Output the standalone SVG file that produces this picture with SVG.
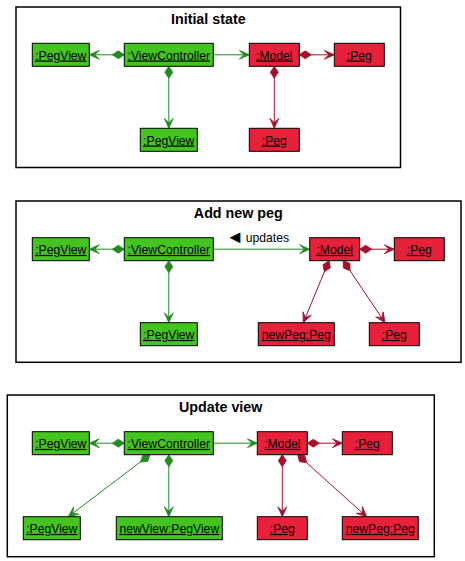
<svg xmlns="http://www.w3.org/2000/svg" width="465" height="561" viewBox="0 0 465 561">
<style>
.frame{fill:#fff;stroke:#000;stroke-width:1.5}
.title{font-family:"Liberation Sans",Arial,sans-serif;font-size:14.3px;font-weight:bold;text-anchor:middle;fill:#000}
.g{fill:#44C41E;stroke:#000;stroke-width:1}
.r{fill:#E8213A;stroke:#000;stroke-width:1}
.t{font-family:"Liberation Sans",Arial,sans-serif;font-size:12.2px;text-anchor:middle;text-decoration:underline;fill:#000}
.lbl{font-family:"Liberation Sans",Arial,sans-serif;font-size:12.2px;fill:#000}
.eg{stroke:#228B22;stroke-width:1;fill:none;marker-end:url(#arrG)}
.er{stroke:#A3122A;stroke-width:1;fill:none;marker-end:url(#arrR)}
.dg{marker-start:url(#diaG)}
.dr{marker-start:url(#diaR)}
</style>
<defs>
<marker id="arrG" viewBox="-12 -6 14 12" refX="0" refY="0" markerWidth="14" markerHeight="12" markerUnits="userSpaceOnUse" orient="auto"><polygon points="0,0 -10,-4.5 -5.5,0 -10,4.5" fill="#228B22" stroke="#228B22" stroke-width="0.8"/></marker>
<marker id="arrR" viewBox="-12 -6 14 12" refX="0" refY="0" markerWidth="14" markerHeight="12" markerUnits="userSpaceOnUse" orient="auto"><polygon points="0,0 -10,-4.5 -5.5,0 -10,4.5" fill="#A3122A" stroke="#A3122A" stroke-width="0.8"/></marker>
<marker id="diaG" viewBox="-1 -5 14 10" refX="0" refY="0" markerWidth="14" markerHeight="10" markerUnits="userSpaceOnUse" orient="auto"><polygon points="0,0 6,-4 12,0 6,4" fill="#228B22" stroke="#228B22" stroke-width="0.8"/></marker>
<marker id="diaR" viewBox="-1 -5 14 10" refX="0" refY="0" markerWidth="14" markerHeight="10" markerUnits="userSpaceOnUse" orient="auto"><polygon points="0,0 6,-4 12,0 6,4" fill="#A3122A" stroke="#A3122A" stroke-width="0.8"/></marker>
</defs>

<!-- Frame 1 -->
<g id="frame1">
<rect class="frame" x="16" y="7" width="384.5" height="160.5"/>
<text class="title" x="208.3" y="24">Initial state</text>
</g>
<g id="connectors1">
<path class="eg dg" d="M124.3,54.8 L89.3,54.8"/>
<path class="eg" d="M213.3,54.8 L249.3,54.8"/>
<path class="er dr" d="M299.3,54.8 L334.3,54.8"/>
<path class="eg dg" d="M168.8,66.3 L168.8,128.3"/>
<path class="er dr" d="M274.3,66.3 L274.3,128.3"/>
</g>
<g id="f1_pegview1"><rect class="g" x="32.3" y="43.3" width="57" height="23"/><text class="t" x="60.8" y="59.5">:PegView</text></g>
<g id="f1_viewcontroller"><rect class="g" x="124.3" y="43.3" width="89" height="23"/><text class="t" x="168.8" y="59.5">:ViewController</text></g>
<g id="f1_model"><rect class="r" x="249.3" y="43.3" width="50" height="23"/><text class="t" x="274.3" y="59.5">:Model</text></g>
<g id="f1_peg1"><rect class="r" x="334.3" y="43.3" width="50" height="23"/><text class="t" x="359.3" y="59.5">:Peg</text></g>
<g id="f1_pegview2"><rect class="g" x="140.3" y="128.3" width="57" height="23"/><text class="t" x="168.8" y="144.5">:PegView</text></g>
<g id="f1_peg2"><rect class="r" x="249.3" y="128.3" width="50" height="23"/><text class="t" x="274.3" y="144.5">:Peg</text></g>

<!-- Frame 2 -->
<g id="frame2">
<rect class="frame" x="16" y="201" width="445" height="161.3"/>
<text class="title" x="238.3" y="218">Add new peg</text>
</g>
<g id="connectors2">
<path class="eg dg" d="M124.3,249.2 L89.3,249.2"/>
<path class="eg" d="M213.3,249.2 L309.7,249.2"/>
<text class="lbl" x="226" y="242"><tspan x="226" y="243" font-size="18">◄</tspan> <tspan x="245.7" y="242">updates</tspan></text>
<path class="er dr" d="M359.7,249.2 L394.3,249.2"/>
<path class="eg dg" d="M168.8,260.7 L168.8,322.7"/>
<path class="er dr" d="M329,260.7 L303.3,322.7"/>
<path class="er dr" d="M343.3,260.7 L385,322.7"/>
</g>
<g id="f2_pegview1"><rect class="g" x="32.3" y="237.7" width="57" height="23"/><text class="t" x="60.8" y="253.9">:PegView</text></g>
<g id="f2_viewcontroller"><rect class="g" x="124.3" y="237.7" width="89" height="23"/><text class="t" x="168.8" y="253.9">:ViewController</text></g>
<g id="f2_model"><rect class="r" x="309.7" y="237.7" width="50" height="23"/><text class="t" x="334.7" y="253.9">:Model</text></g>
<g id="f2_peg1"><rect class="r" x="394.3" y="237.7" width="50" height="23"/><text class="t" x="419.3" y="253.9">:Peg</text></g>
<g id="f2_pegview2"><rect class="g" x="140.3" y="322.7" width="57" height="23"/><text class="t" x="168.8" y="338.9">:PegView</text></g>
<g id="f2_newpeg"><rect class="r" x="258.3" y="322.7" width="76" height="23"/><text class="t" x="296.3" y="338.9">newPeg:Peg</text></g>
<g id="f2_peg2"><rect class="r" x="369.3" y="322.7" width="50" height="23"/><text class="t" x="394.3" y="338.9">:Peg</text></g>

<!-- Frame 3 -->
<g id="frame3">
<rect class="frame" x="7.3" y="395" width="427" height="161.7"/>
<text class="title" x="220.7" y="412">Update view</text>
</g>
<g id="connectors3">
<path class="eg dg" d="M124.3,443.2 L89.3,443.2"/>
<path class="eg" d="M213.3,443.2 L257.3,443.2"/>
<path class="er dr" d="M307.3,443.2 L342.3,443.2"/>
<path class="eg dg" d="M150,454.7 L68.3,516.7"/>
<path class="eg dg" d="M168.8,454.7 L168.8,516.7"/>
<path class="er dr" d="M282.3,454.7 L282.3,516.7"/>
<path class="er dr" d="M297.7,454.7 L366.7,516.7"/>
</g>
<g id="f3_pegview1"><rect class="g" x="32.3" y="431.7" width="57" height="23"/><text class="t" x="60.8" y="447.9">:PegView</text></g>
<g id="f3_viewcontroller"><rect class="g" x="124.3" y="431.7" width="89" height="23"/><text class="t" x="168.8" y="447.9">:ViewController</text></g>
<g id="f3_model"><rect class="r" x="257.3" y="431.7" width="50" height="23"/><text class="t" x="282.3" y="447.9">:Model</text></g>
<g id="f3_peg1"><rect class="r" x="342.3" y="431.7" width="50" height="23"/><text class="t" x="367.3" y="447.9">:Peg</text></g>
<g id="f3_pegview2"><rect class="g" x="23.3" y="516.7" width="57" height="23"/><text class="t" x="51.8" y="532.9">:PegView</text></g>
<g id="f3_newview"><rect class="g" x="116.3" y="516.7" width="106" height="23"/><text class="t" x="169.3" y="532.9">newView:PegView</text></g>
<g id="f3_peg2"><rect class="r" x="257.3" y="516.7" width="50" height="23"/><text class="t" x="282.3" y="532.9">:Peg</text></g>
<g id="f3_newpeg"><rect class="r" x="342.3" y="516.7" width="76" height="23"/><text class="t" x="380.3" y="532.9">newPeg:Peg</text></g>
</svg>
